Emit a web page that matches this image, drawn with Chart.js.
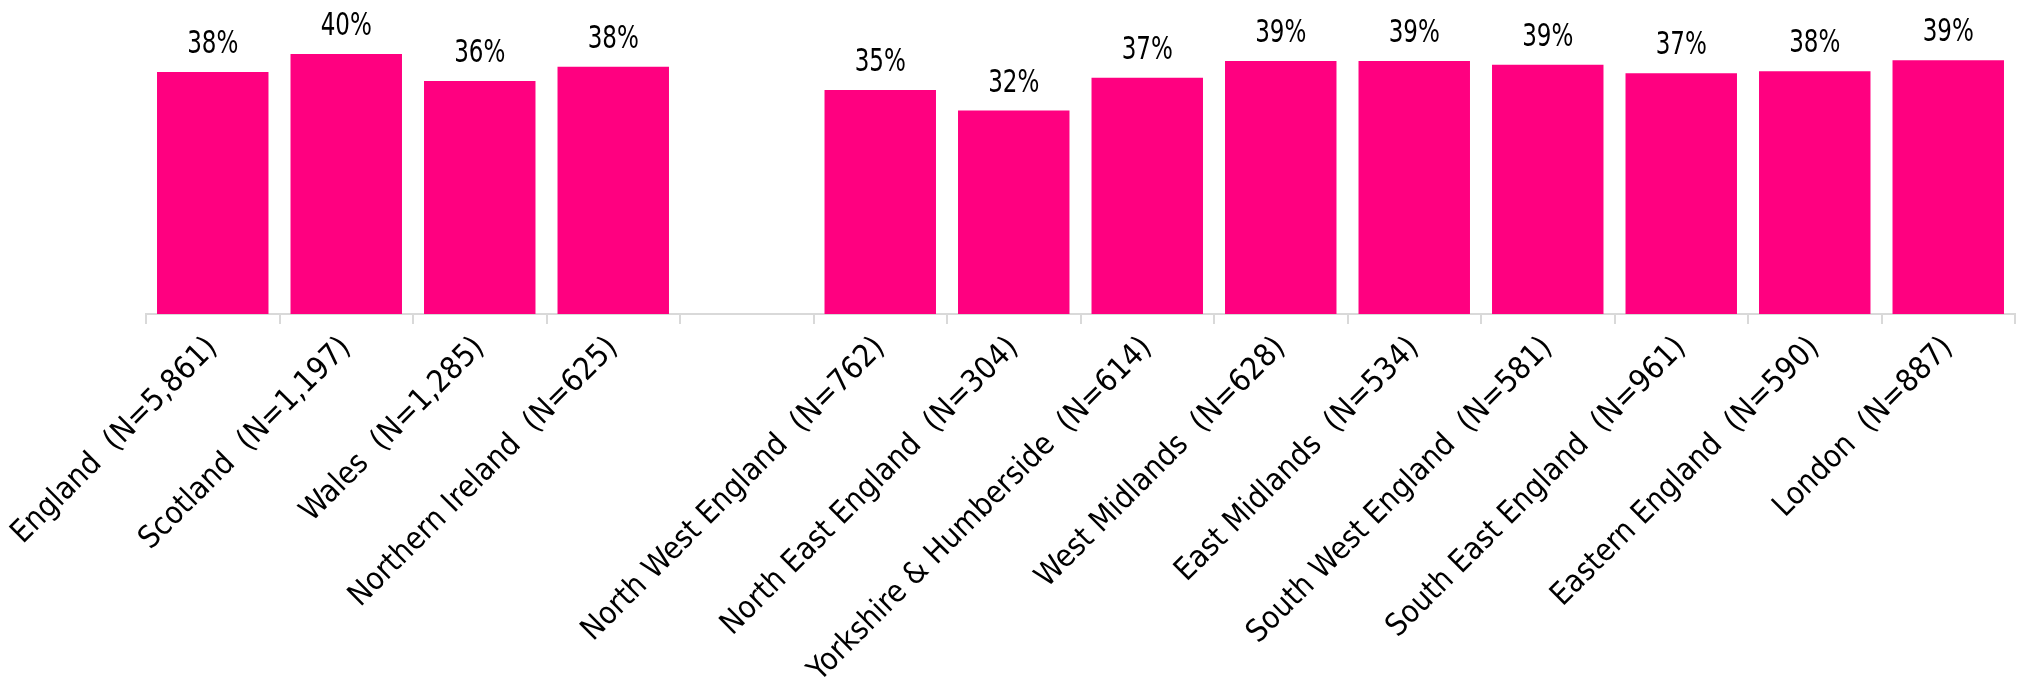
<!DOCTYPE html>
<html>
<head>
<meta charset="utf-8">
<title>Regions</title>
<script src="https://cdn.jsdelivr.net/npm/chart.js@4.4.1/dist/chart.umd.min.js"></script>
<style>
  html, body { margin: 0; padding: 0; background: #fff; }
  #wrap { width: 2020px; height: 688px; }
</style>
</head>
<body>
<div id="wrap"><canvas id="chart" width="2020" height="688"></canvas></div>
<script>
/* categories and values */
const regions = [
  "England  (N=5,861)", "Scotland  (N=1,197)", "Wales  (N=1,285)", "Northern Ireland  (N=625)",
  "",
  "North West England  (N=762)", "North East England  (N=304)", "Yorkshire & Humberside  (N=614)",
  "West Midlands  (N=628)", "East Midlands  (N=534)", "South West England  (N=581)",
  "South East England  (N=961)", "Eastern England  (N=590)", "London  (N=887)"
];
const shares = [37.6, 40.4, 36.2, 38.4, null, 34.8, 31.6, 36.7, 39.3, 39.3, 38.7, 37.4, 37.7, 39.4];
const yMin = 0;
const yMax = 48;

const PINK = "#FF0080";
const AXIS_GREY = "#d9d9d9";

/* draws the "38%" labels above each bar */
const barLabels = {
  id: "barLabels",
  afterDatasetsDraw(chart) {
    const ctx = chart.ctx;
    const meta = chart.getDatasetMeta(0);
    ctx.save();
    ctx.fillStyle = "#000";
    ctx.font = "32px 'DejaVu Sans Condensed', 'DejaVu Sans', sans-serif";
    ctx.textAlign = "center";
    ctx.textBaseline = "alphabetic";
    meta.data.forEach((bar, i) => {
      const v = shares[i];
      if (v == null) return;
      ctx.save();
      ctx.translate(bar.x, bar.y - 19);
      ctx.scale(0.8, 1);
      ctx.fillText(Math.round(v) + "%", 0, 0);
      ctx.restore();
    });
    ctx.restore();
  }
};

function initChart() {
  const ctx = document.getElementById("chart").getContext("2d");
  new Chart(ctx, {
    type: "bar",
    data: {
      labels: regions,
      datasets: [{
        data: shares,
        backgroundColor: PINK,
        borderWidth: 0,
        barPercentage: 0.835,
        categoryPercentage: 1.0
      }]
    },
    options: {
      responsive: false,
      animation: false,
      layout: { padding: { left: 146, right: 5, top: 5, bottom: 0 } },
      plugins: {
        legend: { display: false },
        tooltip: { enabled: false }
      },
      scales: {
        x: {
          grid: {
            offset: true,
            drawOnChartArea: false,
            drawTicks: true,
            tickLength: 10,
            color: AXIS_GREY,
            lineWidth: 2
          },
          border: { color: AXIS_GREY, width: 2 },
          ticks: {
            autoSkip: false,
            minRotation: 45,
            maxRotation: 45,
            padding: 6,
            color: "#000",
            font: { family: "'DejaVu Sans Condensed', 'DejaVu Sans', sans-serif", size: 31 }
          },
          afterFit(scale) {
            scale.height = 374;
            scale.paddingLeft = 0;
            scale.paddingRight = 0;
          }
        },
        y: { display: false, min: yMin, max: yMax }
      }
    },
    plugins: [barLabels]
  });
}

document.addEventListener("DOMContentLoaded", initChart);
</script>
</body>
</html>
